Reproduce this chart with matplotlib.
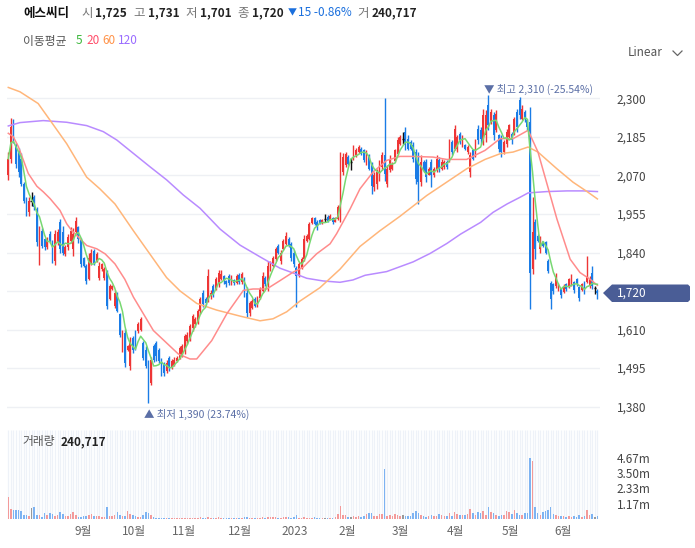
#!/usr/bin/env python
import matplotlib
matplotlib.use('Agg')
import matplotlib.pyplot as plt
from matplotlib.patches import Polygon
from matplotlib.lines import Line2D
from matplotlib.ticker import FuncFormatter
import numpy as np
import pandas as pd

plt.rcParams['font.family'] = ['Noto Sans CJK KR', 'DejaVu Sans']

name = '에스씨디'

# daily candles, Jul 2022 .. Jun 2023
opens = [2070, 2120, 2230, 2160, 2140, 2120, 2045, 2000, 1960, 1995,
         2005, 1970, 1820, 1905, 1880, 1855, 1895, 1870, 1815, 1870,
         1930, 1900, 1835, 1855, 1875, 1850, 1900, 1915, 1880, 1825,
         1800, 1760, 1810, 1845, 1815, 1765, 1790, 1765, 1785, 1700,
         1730, 1680, 1720, 1655, 1550, 1600, 1548, 1500, 1585, 1600,
         1605, 1610, 1570, 1550, 1515, 1450, 1560, 1570, 1550, 1520,
         1505, 1485, 1525, 1495, 1505, 1515, 1525, 1535, 1545, 1575,
         1585, 1615, 1625, 1635, 1665, 1720, 1700, 1695, 1710, 1740,
         1730, 1745, 1760, 1770, 1755, 1770, 1748, 1758, 1750, 1772,
         1752, 1765, 1720, 1660, 1675, 1700, 1680, 1705, 1725, 1765,
         1745, 1790, 1800, 1820, 1860, 1815, 1850, 1865, 1880, 1865,
         1840, 1795, 1770, 1795, 1820, 1875, 1880, 1928, 1942, 1930,
         1938, 1928, 1940, 1945, 1938, 1942, 1932, 1940, 1975, 2080,
         2100, 2125, 2110, 2120, 2130, 2140, 2150, 2145, 2110, 2130,
         2100, 2035, 2045, 2070, 2095, 2130, 2045, 2085, 2088, 2112,
         2135, 2165, 2180, 2200, 2180, 2170, 2160, 2140, 2110, 2050,
         2110, 2110, 2072, 2110, 2070, 2085, 2115, 2090, 2095, 2110,
         2115, 2170, 2150, 2150, 2195, 2160, 2160, 2140, 2080, 2145,
         2130, 2210, 2205, 2175, 2190, 2280, 2230, 2250, 2205, 2190,
         2180, 2140, 2165, 2185, 2195, 2195, 2260, 2295, 2240, 2260,
         2235, 2230, 1790, 1930, 1890, 1850, 1872, 1870, 1815, 1750,
         1745, 1740, 1730, 1732, 1722, 1745, 1738, 1745, 1752, 1760,
         1738, 1728, 1750, 1752, 1740, 1780, 1735, 1725]
highs = [2141, 2242, 2239, 2167, 2152, 2137, 2050, 2006, 2006, 2021,
         2012, 1976, 1919, 1913, 1883, 1886, 1904, 1877, 1907, 1910,
         1940, 1919, 1862, 1895, 1916, 1913, 1946, 1919, 1883, 1827,
         1805, 1838, 1850, 1850, 1841, 1811, 1808, 1797, 1788, 1746,
         1743, 1728, 1722, 1659, 1608, 1612, 1565, 1588, 1590, 1608,
         1632, 1646, 1575, 1560, 1520, 1528, 1568, 1575, 1555, 1525,
         1512, 1520, 1532, 1522, 1527, 1532, 1562, 1567, 1597, 1602,
         1627, 1657, 1647, 1672, 1707, 1727, 1707, 1792, 1727, 1747,
         1767, 1787, 1787, 1772, 1757, 1777, 1772, 1760, 1777, 1780,
         1782, 1767, 1736, 1696, 1701, 1706, 1711, 1736, 1781, 1771,
         1816, 1816, 1831, 1856, 1864, 1846, 1881, 1901, 1886, 1871,
         1846, 1801, 1811, 1826, 1891, 1896, 1931, 1946, 1946, 1936,
         1941, 1941, 1956, 1951, 1956, 1946, 1946, 1981, 2141, 2136,
         2141, 2131, 2121, 2161, 2151, 2161, 2155, 2150, 2145, 2135,
         2110, 2080, 2090, 2115, 2140, 2300, 2100, 2130, 2110, 2150,
         2185, 2190, 2200, 2215, 2190, 2175, 2170, 2150, 2140, 2130,
         2115, 2120, 2095, 2120, 2095, 2130, 2125, 2120, 2115, 2115,
         2180, 2175, 2222, 2190, 2200, 2192, 2165, 2160, 2140, 2150,
         2180, 2220, 2215, 2270, 2265, 2310, 2270, 2260, 2265, 2195,
         2190, 2175, 2210, 2225, 2200, 2245, 2270, 2305, 2280, 2265,
         2240, 2275, 2005, 1940, 1895, 1890, 1875, 1875, 1820, 1755,
         1750, 1780, 1750, 1735, 1745, 1750, 1765, 1775, 1755, 1765,
         1740, 1750, 1755, 1830, 1770, 1800, 1740, 1731]
lows = [2056, 2107, 2167, 2092, 2066, 2039, 1988, 1949, 1949, 1979,
        1967, 1859, 1803, 1853, 1847, 1850, 1868, 1808, 1803, 1862,
        1838, 1832, 1829, 1847, 1868, 1829, 1898, 1868, 1797, 1797,
        1746, 1758, 1803, 1803, 1811, 1758, 1785, 1758, 1671, 1698,
        1728, 1674, 1662, 1588, 1543, 1497, 1545, 1490, 1540, 1550,
        1600, 1605, 1520, 1495, 1390, 1444, 1512, 1515, 1510, 1472,
        1470, 1480, 1487, 1492, 1502, 1512, 1522, 1527, 1537, 1567,
        1577, 1607, 1617, 1627, 1657, 1677, 1682, 1692, 1702, 1707,
        1727, 1737, 1757, 1747, 1737, 1742, 1742, 1742, 1747, 1747,
        1747, 1706, 1646, 1651, 1671, 1676, 1676, 1700, 1721, 1741,
        1726, 1786, 1796, 1816, 1836, 1806, 1846, 1861, 1856, 1816,
        1796, 1676, 1766, 1791, 1816, 1871, 1876, 1926, 1921, 1906,
        1926, 1926, 1931, 1931, 1936, 1926, 1931, 1936, 1930, 2071,
        2096, 2101, 2086, 2116, 2126, 2136, 2131, 2110, 2100, 2085,
        2015, 2025, 2030, 2055, 2085, 2055, 2035, 2080, 2085, 2110,
        2130, 2160, 2165, 2145, 2145, 2145, 2110, 2045, 1985, 2040,
        2080, 2050, 2070, 2035, 2065, 2080, 2080, 2085, 2090, 2090,
        2110, 2130, 2145, 2140, 2165, 2155, 2145, 2135, 2065, 2115,
        2125, 2165, 2165, 2160, 2170, 2205, 2225, 2175, 2200, 2140,
        2125, 2135, 2155, 2180, 2165, 2190, 2200, 2240, 2235, 2230,
        2205, 1672, 1775, 1820, 1870, 1840, 1855, 1835, 1780, 1672,
        1715, 1735, 1725, 1705, 1720, 1725, 1735, 1740, 1720, 1740,
        1695, 1725, 1715, 1750, 1735, 1730, 1715, 1701]
closes = [2120, 2215, 2180, 2105, 2080, 2045, 1995, 1960, 1995, 1995,
          1975, 1870, 1900, 1860, 1855, 1880, 1870, 1815, 1895, 1900,
          1850, 1840, 1855, 1885, 1905, 1895, 1935, 1880, 1805, 1800,
          1755, 1825, 1840, 1810, 1835, 1800, 1805, 1790, 1680, 1740,
          1740, 1720, 1665, 1595, 1600, 1510, 1560, 1575, 1550, 1560,
          1625, 1640, 1525, 1500, 1440, 1520, 1520, 1530, 1515, 1480,
          1480, 1510, 1495, 1515, 1520, 1525, 1555, 1560, 1590, 1595,
          1620, 1650, 1640, 1665, 1700, 1685, 1690, 1770, 1720, 1715,
          1760, 1780, 1775, 1755, 1745, 1750, 1765, 1748, 1770, 1752,
          1775, 1715, 1660, 1690, 1695, 1680, 1705, 1730, 1770, 1745,
          1800, 1810, 1825, 1850, 1840, 1840, 1875, 1890, 1860, 1825,
          1805, 1770, 1805, 1820, 1880, 1890, 1925, 1942, 1925, 1915,
          1928, 1938, 1940, 1935, 1950, 1930, 1942, 1975, 2120, 2125,
          2135, 2105, 2110, 2150, 2145, 2155, 2135, 2115, 2135, 2090,
          2040, 2070, 2080, 2105, 2130, 2075, 2090, 2120, 2105, 2145,
          2175, 2185, 2180, 2160, 2150, 2150, 2120, 2060, 2050, 2110,
          2085, 2065, 2090, 2070, 2090, 2120, 2090, 2110, 2110, 2095,
          2170, 2140, 2210, 2185, 2170, 2185, 2150, 2155, 2130, 2120,
          2170, 2175, 2180, 2250, 2250, 2220, 2260, 2190, 2255, 2150,
          2140, 2170, 2200, 2220, 2175, 2240, 2215, 2250, 2270, 2240,
          2215, 1780, 1900, 1850, 1875, 1880, 1860, 1840, 1785, 1700,
          1725, 1770, 1745, 1712, 1740, 1730, 1760, 1770, 1728, 1745,
          1705, 1745, 1725, 1770, 1760, 1740, 1735, 1720]
# volume in thousand shares
volumes_k = [1690, 750, 700, 720, 700, 620, 320, 280, 260, 830,
             900, 330, 300, 160, 480, 300, 420, 350, 250, 300,
             560, 410, 250, 200, 350, 520, 280, 150, 180, 200,
             230, 300, 350, 250, 220, 240, 160, 180, 900, 250,
             200, 300, 520, 280, 250, 200, 630, 350, 300, 200,
             150, 180, 320, 540, 420, 300, 120, 100, 90, 80,
             80, 70, 60, 50, 60, 70, 80, 90, 70, 60,
             80, 100, 90, 80, 120, 110, 90, 140, 100, 90,
             100, 120, 110, 80, 70, 90, 80, 70, 60, 80,
             90, 120, 160, 90, 80, 60, 70, 110, 130, 80,
             170, 120, 150, 130, 110, 90, 130, 160, 120, 100,
             130, 280, 110, 90, 150, 100, 80, 90, 120, 70,
             80, 90, 90, 70, 100, 110, 120, 350, 1000, 320,
             280, 170, 150, 220, 160, 200, 170, 250, 370, 440,
             430, 200, 260, 380, 400, 3800, 250, 300, 210, 380,
             270, 230, 300, 200, 200, 230, 460, 640, 470, 300,
             200, 190, 250, 320, 220, 240, 400, 300, 220, 250,
             420, 260, 520, 350, 300, 330, 280, 370, 750, 490,
             310, 500, 480, 640, 300, 880, 520, 420, 330, 240,
             330, 280, 620, 550, 400, 650, 470, 300, 300, 460,
             450, 4650, 4420, 940, 450, 320, 540, 620, 680, 930,
             410, 290, 200, 250, 230, 170, 220, 180, 200, 140,
             280, 180, 250, 700, 300, 400, 180, 240.717]

# longer moving averages (candle index, price)
ma20_x = [0, 1.9, 3.9, 5.8, 7.7, 11, 13.5, 16.1, 19.9, 22.5, 24.4, 27, 30.2,
          34.1, 37.3, 41.1, 44.9, 48.2, 55.9, 65.5, 70, 72.6, 78.4, 84.2,
          90.6, 94.3, 99.6, 104.7, 109.7, 113.6, 118.8, 124, 126.5, 131.7,
          135.5, 140.5, 145.8, 150.9, 155.9, 163.7, 168.9, 176.6, 183.7,
          189.5, 194.5, 200.3, 204.1, 211.4, 216.5, 220.3, 224.2, 227]
ma20_y = [2196, 2186, 2156, 2116, 2076, 2038, 2021, 2001, 1966, 1926, 1906,
          1886, 1861, 1851, 1836, 1806, 1760, 1707, 1607, 1537, 1522, 1522,
          1577, 1657, 1727, 1731, 1731, 1756, 1781, 1796, 1836, 1866, 1896,
          1970, 2030, 2080, 2115, 2127, 2127, 2125, 2118, 2118, 2145, 2180,
          2180, 2205, 2140, 1940, 1820, 1780, 1760, 1742]
ma60_x = [0, 4.5, 11.5, 16.1, 22.5, 30.2, 35.3, 41.1, 48.2, 54.6, 61, 66.2,
          72.6, 80.3, 89.3, 97, 102, 107.3, 112.4, 120.1, 127.8, 135.5,
          143.2, 150.9, 161.2, 168.9, 176.6, 183.7, 189.5, 194.5, 200.3,
          204.1, 211.4, 217.6, 223, 227]
ma60_y = [2333, 2320, 2285, 2235, 2165, 2065, 2030, 1985, 1905, 1835, 1765,
          1725, 1688, 1668, 1650, 1636, 1642, 1663, 1695, 1735, 1790, 1858,
          1905, 1948, 2010, 2050, 2090, 2118, 2135, 2140, 2155, 2140, 2090,
          2050, 2022, 2000]
ma120_x = [0, 4.5, 13.5, 22.5, 30.2, 36.6, 41.8, 48.2, 54.6, 61, 67.4, 73.9,
           81.6, 89.3, 97, 104.7, 109.7, 115, 121.3, 127.8, 132.8, 137.5,
           145.8, 156, 162.5, 169, 174.3, 182, 186.8, 192.2, 197.2, 200.3,
           207.6, 215.3, 221.5, 227]
ma120_y = [2218, 2228, 2234, 2229, 2219, 2201, 2176, 2136, 2096, 2057, 2012,
           1972, 1910, 1862, 1827, 1793, 1779, 1763, 1755, 1751, 1758, 1772,
           1783, 1812, 1837, 1867, 1895, 1930, 1960, 1985, 2005, 2018, 2022,
           2024, 2024, 2022]

month_labels = ['9월', '10월', '11월', '12월', '2023', '2월', '3월', '4월', '5월', '6월']
month_pos = [28.7, 48.5, 67.8, 89.3, 110.5, 130.7, 151, 172.2, 193.6, 213.6]
price_ticks = [1380, 1495, 1610, 1725, 1840, 1955, 2070, 2185, 2300]
vol_ticks = [1.17, 2.33, 3.50, 4.67]

RED, BLUE = '#ee3535', '#1a7ce6'
W, H = 695, 548


def fx(px):
    return px / W


def fy(py):
    return 1 - py / H


o, h, l, c = (np.array(a, dtype=float) for a in (opens, highs, lows, closes))
n = len(c)
x = np.arange(n)
col = np.where(c > o, RED, np.where(c < o, BLUE, '#111111'))
vcol = np.where(c > o, '#f39a9a', np.where(c < o, '#7db3f2', '#999999'))
ma5 = pd.Series(c).rolling(5, min_periods=1).mean()

fig = plt.figure(figsize=(W / 100, H / 100), dpi=100)
ax = fig.add_axes([fx(7), fy(420), (600 - 7) / W, (420 - 62) / H])
axv = fig.add_axes([fx(7), fy(519), (600 - 7) / W, (519 - 430) / H])

xlim = (-0.5, 228.0)
# price pane
ax.set_xlim(*xlim)
ax.set_ylim(1339.7, 2409)
for t in price_ticks:
    ax.axhline(t, color='#eef0f4', lw=1, zorder=0)
ax.vlines(x, l, h, colors=col, lw=1.0, zorder=2)
ax.bar(x, np.maximum(np.abs(c - o), 0.1), bottom=np.minimum(o, c),
       width=0.7, color=col, zorder=2)
flat = c == o
ax.hlines(c[flat], x[flat] - 0.45, x[flat] + 0.45, colors='#111111', lw=1, zorder=2)

ax.plot(ma120_x, ma120_y, color='#b98bff', lw=1.1, zorder=3)
ax.plot(ma60_x, ma60_y, color='#ffb67a', lw=1.1, zorder=3)
ax.plot(ma20_x, ma20_y, color='#ff8c8c', lw=1.1, zorder=3)
ax.plot(x, ma5, color='#78d872', lw=1.1, zorder=4)

ax.set_yticks(price_ticks)
ax.yaxis.set_major_formatter(FuncFormatter(lambda v, p: '{:,}'.format(int(v))))
ax.yaxis.tick_right()
ax.tick_params(axis='y', length=0, pad=12, labelsize=8.5, labelcolor='#444444')
ax.set_xticks([])
for s in ax.spines.values():
    s.set_visible(False)

# high / low markers
last = c[-1]
hi_i, lo_i = int(np.argmax(h)), int(np.argmin(l))
hi_txt = '▼ 최고 {:,} ({:.2f}%)'.format(int(h[hi_i]), (last - h[hi_i]) / h[hi_i] * 100)
lo_txt = '▲ 최저 {:,} ({:.2f}%)'.format(int(l[lo_i]), (last - l[lo_i]) / l[lo_i] * 100)
ax.annotate(hi_txt, xy=(hi_i, h[hi_i]), xytext=(-4, 6), textcoords='offset pixels',
            ha='left', va='center', fontsize=7.5, color='#5b6fa6')
ax.annotate(lo_txt, xy=(lo_i, l[lo_i]), xytext=(-4, -11), textcoords='offset pixels',
            ha='left', va='center', fontsize=7.5, color='#5b6fa6')

# volume pane
vol = np.array(volumes_k) / 1000.0
axv.set_xlim(*xlim)
axv.set_ylim(0, 89 / 13.1)
axv.vlines(x, 0, 89 / 13.1, colors='#eef2f8', lw=0.9, zorder=0)
axv.bar(x, vol, width=0.6, color=vcol, zorder=2)
axv.set_yticks(vol_ticks)
axv.set_yticklabels(['{:.2f}m'.format(v) for v in vol_ticks])
axv.yaxis.tick_right()
axv.tick_params(axis='y', length=0, pad=12, labelsize=8.5, labelcolor='#444444')
axv.set_xticks(month_pos)
axv.set_xticklabels(month_labels)
axv.tick_params(axis='x', length=0, pad=4, labelsize=8.5, labelcolor='#666666')
for s in axv.spines.values():
    s.set_visible(False)
fig.text(fx(22), fy(442), '거래량', fontsize=8.5, color='#555555', va='center')
fig.text(fx(61), fy(442), '{:,}'.format(round(volumes_k[-1] * 1000)), fontsize=8.5,
         color='#222222', weight='bold', va='center')

# header, laid out left to right
chg = last - c[-2]
pieces = [
    (name, '#111111', 'bold', 9, 12),
    ('시', '#777777', 'normal', 9, 3), ('{:,}'.format(int(o[-1])), '#222222', 'bold', 8.5, 6),
    ('고', '#777777', 'normal', 9, 3), ('{:,}'.format(int(h[-1])), '#222222', 'bold', 8.5, 6),
    ('저', '#777777', 'normal', 9, 3), ('{:,}'.format(int(l[-1])), '#222222', 'bold', 8.5, 6),
    ('종', '#777777', 'normal', 9, 3), ('{:,}'.format(int(last)), '#222222', 'bold', 8.5, 4),
    ('▼', '#1a6fdd', 'normal', 6.5, 1),
    ('{:,} {:.2f}%'.format(int(abs(chg)), chg / c[-2] * 100), '#1a6fdd', 'normal', 8.5, 6),
    ('거', '#777777', 'normal', 9, 3),
    ('{:,}'.format(round(volumes_k[-1] * 1000)), '#222222', 'bold', 8.5, 0),
]
renderer = fig.canvas.get_renderer()
xp = 23
for s, color, w, size, gap in pieces:
    t = fig.text(fx(xp), fy(13), s, fontsize=size, color=color, weight=w, va='center')
    xp += t.get_window_extent(renderer=renderer).width + gap

legend = [(23, '이동평균', '#555555'), (76, '5', '#3cb83c'), (86, '20', '#ff4d6a'),
          (102, '60', '#ff9248'), (118, '120', '#9a6cff')]
for px, s, color in legend:
    fig.text(fx(px), fy(41), s, fontsize=8.5, color=color, va='center')

fig.text(fx(628), fy(53), 'Linear', fontsize=8.5, color='#555555', va='center')
fig.add_artist(Line2D([fx(673), fx(677.5), fx(682)], [fy(51), fy(55.5), fy(51)],
                      color='#666666', lw=0.9, transform=fig.transFigure))

# current price tag
tag = [(603, 293), (612, 284.5), (688, 284.5), (690, 286.5), (690, 300),
       (688, 302), (612, 302)]
fig.add_artist(Polygon([(fx(a), fy(b)) for a, b in tag], closed=True,
                       facecolor='#4a5d96', edgecolor='none',
                       transform=fig.transFigure, zorder=5))
fig.text(fx(617), fy(293.5), '{:,}'.format(int(last)), fontsize=8.5, color='white',
         va='center', zorder=6)

fig.savefig('out.png', dpi=100)
